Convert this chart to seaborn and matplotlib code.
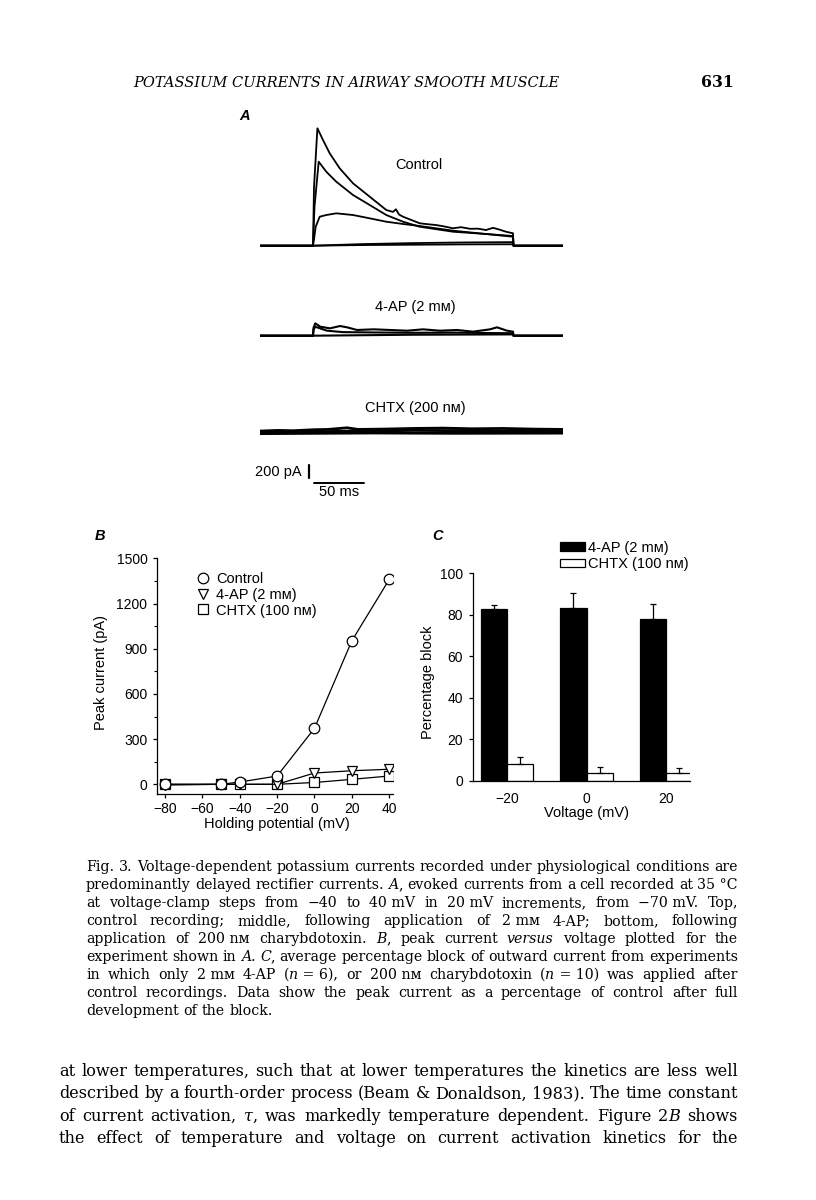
import matplotlib
matplotlib.use('Agg')
import matplotlib.pyplot as plt
from matplotlib.lines import Line2D
from matplotlib.patches import Patch
import pandas as pd
import seaborn as sns

W, H = 816, 1200
K = 200 / 13.0  # pA per pixel in panel A (200 pA bar is ~13 px)

# ---------- panel A: current traces (ms from step onset, pA) ----------
ctrl40_t = [-53, 0, 1, 4.4, 10, 16.7, 26.7, 40, 56.7, 73.3, 80, 83, 86, 90, 106.7, 115, 123, 130,
            140, 148, 157, 165, 173, 180, 186, 193, 200, 200.5, 250]
ctrl40_pA = [0, 0, 900, 1806, 1626, 1421, 1190, 960, 754, 549, 520, 560, 480, 446, 345, 330, 318, 300,
             268, 285, 260, 262, 241, 275, 250, 215, 191, 0, 0]
ctrl20_t = [-53, 0, 1.5, 5.7, 13.3, 23.3, 40, 56.7, 73.3, 90, 106.7, 140, 173, 200, 200.5, 250]
ctrl20_pA = [0, 0, 600, 1292, 1138, 984, 780, 626, 472, 369, 292, 215, 180, 149, 0, 0]
ctrl0_t = [-53, 0, 1, 2.7, 6.7, 13.3, 23.3, 40, 56.7, 73.3, 90, 106.7, 140, 173, 200, 200.5, 250]
ctrl0_pA = [0, 0, 100, 292, 446, 472, 498, 472, 421, 369, 334, 303, 231, 180, 138, 0, 0]
ctrlm20_t = [-53, 0, 50, 100, 150, 200, 200.5, 250]
ctrlm20_pA = [0, 0, 25, 40, 50, 55, 0, 0]
ctrlm40_t = [-53, 0, 50, 100, 150, 200, 200.5, 250]
ctrlm40_pA = [0, 0, 10, 15, 20, 22, 0, 0]

ap_a_t = [-53, 0, 0.5, 2.3, 7.3, 17, 27, 34, 44, 60.7, 77, 94, 110, 127, 144, 160, 177, 184, 194,
          200, 200.5, 250]
ap_a_pA = [0, 0, 120, 190, 138, 113, 149, 129, 88, 98, 88, 77, 98, 77, 88, 62, 98, 129, 77, 62, 0, 0]
ap_b_t = [-53, 0, 0.5, 2.3, 14, 30, 60, 100, 140, 180, 200, 200.5, 250]
ap_b_pA = [0, 0, 90, 138, 77, 55, 50, 45, 48, 40, 38, 0, 0]
ap_c_t = [-53, 0, 100, 200, 200.5, 250]
ap_c_pA = [0, 0, 15, 20, 0, 0]

chtx_a_t = [-53, -35, -20, 0, 15, 34, 45, 70, 100, 130, 160, 190, 220, 250]
chtx_a_pA = [10, 20, 15, 30, 35, 60, 35, 40, 50, 55, 45, 50, 40, 35]
chtx_b_t = [-53, 0, 50, 100, 150, 200, 250]
chtx_b_pA = [-10, 0, 10, 20, 15, 10, 5]
chtx_c_t = [-53, 60, 140, 250]
chtx_c_pA = [-30, -20, -25, -22]

# ---------- panel B: peak current vs holding potential ----------
hold_mv = [-80, -50, -40, -20, 0, 20, 40]
peak_control = [0, 0, 15, 55, 372, 953, 1360]
peak_4ap = [-5, 0, 0, 0, 75, 90, 100]
peak_chtx = [0, 0, 0, 0, 12, 33, 55]

# ---------- panel C: percentage block ----------
volt_mv = [-20, 0, 20]
block_4ap = [82.6, 83.4, 77.8]
block_4ap_sem = [2.3, 7.0, 7.4]
block_chtx = [8.2, 3.9, 3.5]
block_chtx_sem = [3.4, 2.5, 2.4]

header = 'POTASSIUM CURRENTS IN AIRWAY SMOOTH MUSCLE'
page_no = '631'
caption = [
    'Fig. 3. Voltage-dependent potassium currents recorded under physiological conditions are',
    'predominantly delayed rectifier currents. _A_, evoked currents from a cell recorded at 35~°C',
    'at voltage-clamp steps from −40 to 40~mV in 20~mV increments, from −70~mV. Top,',
    'control recording; middle, following application of 2~mᴍ 4-AP; bottom, following',
    'application of 200~nᴍ charybdotoxin. _B_, peak current _versus_ voltage plotted for the',
    'experiment shown in _A_. _C_, average percentage block of outward current from experiments',
    'in which only 2~mᴍ 4-AP (_n_~=~6), or 200~nᴍ charybdotoxin (_n_~=~10) was applied after',
    'control recordings. Data show the peak current as a percentage of control after full',
    'development of the block.',
]
body = [
    'at lower temperatures, such that at lower temperatures the kinetics are less well',
    'described by a fourth-order process (Beam & Donaldson, 1983). The time constant',
    'of current activation, _τ_, was markedly temperature dependent. Figure 2_B_ shows',
    'the effect of temperature and voltage on current activation kinetics for the',
]

sns.set_style('ticks')
plt.rcParams['font.family'] = ['Liberation Sans', 'DejaVu Sans']
for key in ['text.color', 'axes.labelcolor', 'axes.edgecolor', 'xtick.color', 'ytick.color']:
    plt.rcParams[key] = 'black'
SERIF = ['DejaVu Serif', 'DejaVu Sans']

fig = plt.figure(figsize=(W / 100, H / 100), dpi=100)
rend = fig.canvas.get_renderer()


def px_axes(l, t, r, b):
    return fig.add_axes([l / W, 1 - b / H, (r - l) / W, (b - t) / H])


def ftext(x, y, s, **kw):
    return fig.text(x / W, 1 - y / H, s, **kw)


def text_width(s, size, **kw):
    t = fig.text(0, 0, s, fontsize=size, family=SERIF, **kw)
    w = t.get_window_extent(rend).width
    t.remove()
    return w


def split_words(line, size):
    words = []
    for w in line.split(' '):
        segs = [(s.replace('~', ' '), 'italic' if i % 2 else 'normal')
                for i, s in enumerate(w.split('_')) if s]
        words.append([(s, st, text_width(s, size, style=st)) for s, st in segs])
    return words


def space(size):
    return 0.318 * size * 100 / 72


def natural_width(line, size):
    words = split_words(line, size)
    return sum(sum(p[2] for p in w) for w in words) + space(size) * (len(words) - 1)


def fit_size(lines, width):
    # the widest line sets a size at which it just fills the measure
    return min(10 * width / natural_width(l, 10) for l in lines)


def put_line(line, x0, x1, base, size, justify=True):
    words = split_words(line, size)
    total = sum(sum(p[2] for p in w) for w in words)
    gap = (x1 - x0 - total) / (len(words) - 1) if justify else space(size)
    x = x0
    for w in words:
        for s, st, wd in w:
            ftext(x, base, s, fontsize=size, family=SERIF, style=st, va='baseline', ha='left')
            x += wd
        x += gap


def fit_text(s, x0, x1, base, **kw):
    t = ftext(x0, base, s, fontsize=10, family=SERIF, va='baseline', ha='left', **kw)
    w = t.get_window_extent(rend).width
    t.set_fontsize(10 * (x1 - x0) / w)


# page header
fit_text(header, 133, 560, 87, style='italic')
fit_text(page_no, 701, 734, 87, weight='bold')

# ---------- panel A ----------
def trace_axes(top, bottom, base, traces, lw=1.3):
    ax = px_axes(260, top, 563, bottom)
    df = pd.concat([pd.DataFrame({'t': t, 'pA': i, 'trace': n})
                    for n, (t, i) in enumerate(traces)])
    sns.lineplot(data=df, x='t', y='pA', units='trace', estimator=None, sort=False,
                 color='black', lw=lw, ax=ax)
    ax.set_xlim(-53, 250)
    ax.set_ylim((base - bottom) * K, (base - top) * K)
    ax.axis('off')
    return ax


trace_axes(112, 258, 245.7, [(ctrlm40_t, ctrlm40_pA), (ctrlm20_t, ctrlm20_pA), (ctrl0_t, ctrl0_pA),
                             (ctrl20_t, ctrl20_pA), (ctrl40_t, ctrl40_pA)])
trace_axes(312, 345, 335.7, [(ap_c_t, ap_c_pA), (ap_b_t, ap_b_pA), (ap_a_t, ap_a_pA)], lw=1.5)
axs = trace_axes(412, 500, 431.7, [(chtx_c_t, chtx_c_pA), (chtx_b_t, chtx_b_pA),
                                   (chtx_a_t, chtx_a_pA)], lw=2.0)
# scale bars
axs.plot([-4.3, -4.3], [-515, -715], color='black', lw=1.6)
axs.plot([0.7, 50.7], [-794, -794], color='black', lw=1.4)
axs.text(-11.6, -615, '200 pA', fontsize=10.5, ha='right', va='center')
axs.text(25.7, -922, '50 ms', fontsize=10.5, ha='center', va='center')

ftext(245, 116, 'A', fontsize=10.5, style='italic', weight='bold', ha='center', va='center')
ftext(419, 165, 'Control', fontsize=10.5, ha='center', va='center')
ftext(415, 307, '4-AP (2 mᴍ)', fontsize=10.5, ha='center', va='center')
ftext(415, 408, 'CHTX (200 nᴍ)', fontsize=10.5, ha='center', va='center')

# ---------- panel B ----------
bl, bt, br, bb = 157.1, 558.3, 393.0, 794.1
axb = px_axes(bl, bt, br, bb)
for vals, mk, ms in [(peak_chtx, 's', 6.5), (peak_4ap, 'v', 7.2), (peak_control, 'o', 7.6)]:
    sns.lineplot(x=hold_mv, y=vals, marker=mk, markersize=ms, markerfacecolor='white',
                 markeredgecolor='black', markeredgewidth=0.9, color='black', lw=0.9, ax=axb)
axb.set_xlim(-84.2, 42)
axb.set_ylim(-65, 1500)
axb.set_xticks(range(-80, 41, 20))
axb.set_yticks(range(0, 1501, 300))
axb.set_yticks(range(150, 1500, 300), minor=True)
sns.despine(ax=axb)
for s in axb.spines.values():
    s.set_linewidth(0.9)
axb.tick_params(labelsize=10, length=3, width=0.9)
axb.tick_params(axis='y', pad=4)
axb.tick_params(axis='x', pad=2.5)
axb.tick_params(which='minor', length=2, width=0.8)
axb.set_xlabel('Holding potential (mV)', fontsize=10.5)
axb.set_ylabel('Peak current (pA)', fontsize=10.5)
axb.xaxis.set_label_coords((277 - bl) / (br - bl), (bb - 824) / (bb - bt))
axb.xaxis.label.set_va('center')
axb.yaxis.set_label_coords((101 - bl) / (br - bl), (bb - 672) / (bb - bt))
axb.yaxis.label.set_va('center')
hb = [Line2D([], [], ls='none', marker=m, ms=s, mfc='white', mec='black', mew=0.9)
      for m, s in [('o', 7.6), ('v', 7.2), ('s', 6.5)]]
axb.legend(hb, ['Control', '4-AP (2 mᴍ)', 'CHTX (100 nᴍ)'], loc='upper left',
           bbox_to_anchor=((196 - bl) / (br - bl), (bb - 572) / (bb - bt)), frameon=False,
           fontsize=10.5, handlelength=1.0, handletextpad=0.37, labelspacing=0.12,
           borderpad=0, borderaxespad=0)
ftext(100, 536, 'B', fontsize=10.5, style='italic', weight='bold', ha='center', va='center')

# ---------- panel C ----------
cl, ct, cr, cb = 473.3, 573.3, 689.9, 780.7
axc = px_axes(cl, ct, cr, cb)
dfc = pd.DataFrame({'v': volt_mv * 2, 'block': block_4ap + block_chtx,
                    'drug': ['4-AP'] * 3 + ['CHTX'] * 3})
sns.barplot(data=dfc, x='v', y='block', hue='drug', palette=['black', 'white'], saturation=1,
            edgecolor='black', linewidth=0.9, width=0.66, errorbar=None, legend=False, ax=axc)
for cont, sem in zip(axc.containers, [block_4ap_sem, block_chtx_sem]):
    for bar, e in zip(cont, sem):
        axc.errorbar(bar.get_x() + bar.get_width() / 2, bar.get_height(), yerr=[[0], [e]],
                     fmt='none', ecolor='black', elinewidth=0.9, capsize=2.2, capthick=0.9)
axc.set_xlim(-0.424, 2.3)
axc.set_ylim(0, 100)
axc.set_yticks(range(0, 101, 20))
axc.set_xticks(range(3), [str(v).replace('-', '−') for v in volt_mv])
sns.despine(ax=axc)
for s in axc.spines.values():
    s.set_linewidth(0.9)
axc.tick_params(labelsize=10, length=3, width=0.9)
axc.tick_params(axis='y', pad=4.3)
axc.tick_params(axis='x', length=0, pad=8)
axc.set_xlabel('Voltage (mV)', fontsize=10.5)
axc.set_ylabel('Percentage block', fontsize=10.5)
axc.xaxis.set_label_coords((587 - cl) / (cr - cl), (cb - 813) / (cb - ct))
axc.xaxis.label.set_va('center')
axc.yaxis.set_label_coords((428 - cl) / (cr - cl), (cb - 682) / (cb - ct))
axc.yaxis.label.set_va('center')
hc = [Patch(facecolor='black', edgecolor='black', lw=0.9),
      Patch(facecolor='white', edgecolor='black', lw=0.9)]
axc.legend(hc, ['4-AP (2 mᴍ)', 'CHTX (100 nᴍ)'], loc='upper left',
           bbox_to_anchor=((560 - cl) / (cr - cl), (cb - 541) / (cb - ct)), frameon=False,
           fontsize=10.5, handlelength=1.7, handleheight=0.55, handletextpad=0.25,
           labelspacing=0.15, borderpad=0, borderaxespad=0)
ftext(438, 536, 'C', fontsize=10.5, style='italic', weight='bold', ha='center', va='center')

# ---------- caption and running text ----------
cap_size = fit_size(caption[:-1], 738 - 86)
for i, line in enumerate(caption):
    put_line(line, 86, 738, 871 + 18 * i, cap_size, justify=i < len(caption) - 1)
body_size = fit_size(body, 738 - 59)
for i, line in enumerate(body):
    put_line(line, 59, 738, 1076 + 22.4 * i, body_size)

fig.savefig('out.png', dpi=100)
